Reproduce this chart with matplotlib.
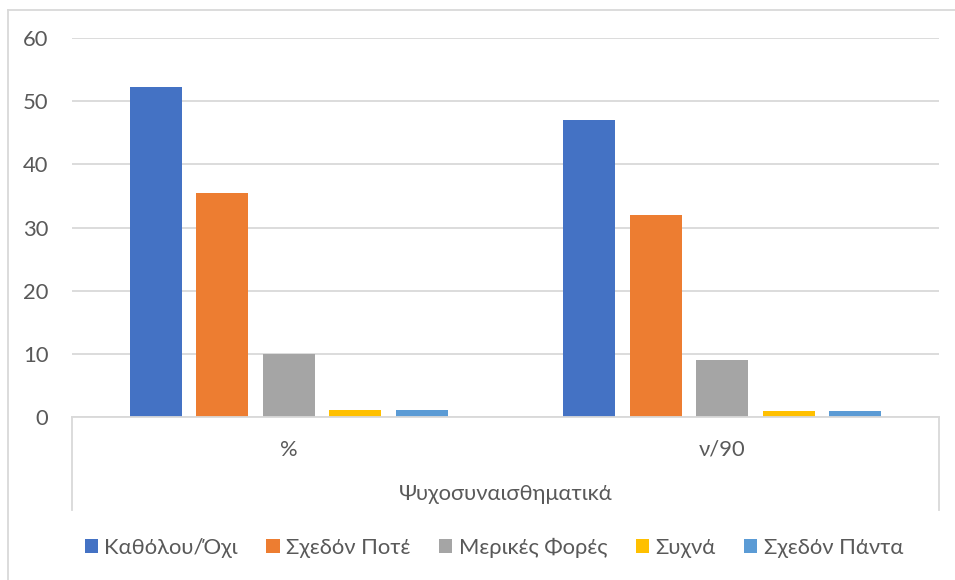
import matplotlib
matplotlib.use("Agg")
import matplotlib.pyplot as plt
from matplotlib.lines import Line2D
from matplotlib.patches import Patch
import matplotlib.transforms as mtransforms

# Data
groups = ["%", "ν/90"]
outer_label = "Ψυχοσυναισθηματικά"
series = ["Καθόλου/Όχι", "Σχεδόν Ποτέ", "Μερικές Φορές", "Συχνά", "Σχεδόν Πάντα"]
pct_values = [52.2, 35.5, 10.0, 1.1, 1.1]
count_values = [47, 32, 9, 1, 1]
colors = ["#4472C4", "#ED7D31", "#A5A5A5", "#FFC000", "#5B9BD5"]
yticks = [0, 10, 20, 30, 40, 50, 60]

plt.rcParams["font.family"] = ["Lato", "DejaVu Sans"]
text_color = "#595959"
grid_color = "#D9D9D9"
fs = 15.8

W, H = 955, 580
fig = plt.figure(figsize=(W / 100, H / 100), dpi=100)

def fx(px):
    return px / W

def fy(py):
    return 1 - py / H

ax_left, ax_right, ax_top, ax_bottom = 72, 939, 38, 417
ax = fig.add_axes([fx(ax_left), fy(ax_bottom), fx(ax_right - ax_left), fy(ax_top) - fy(ax_bottom)])

values_by_group = [pct_values, count_values]
n = len(series)
step = 0.1536
width = 0.12
for i, name in enumerate(series):
    xs = [g + (i - (n - 1) / 2) * step for g in range(len(groups))]
    hs = [values_by_group[g][i] for g in range(len(groups))]
    ax.bar(xs, hs, width=width, color=colors[i], label=name, zorder=3)

ax.set_xlim(-0.5, len(groups) - 0.5)
ax.set_ylim(0, 60)
ax.set_yticks(yticks)
ax.set_yticklabels([str(t) for t in yticks])
ax.tick_params(axis="y", length=0, pad=17, labelsize=fs, labelcolor=text_color)
ax.set_xticks([])
ax.grid(axis="y", color=grid_color, linewidth=1.3, zorder=0)
for s in ["left", "right", "top"]:
    ax.spines[s].set_visible(False)
ax.spines["bottom"].set_color(grid_color)
ax.spines["bottom"].set_linewidth(1.3)
ax.spines["bottom"].set_zorder(4)

# Category axis: group labels and outer label
trans = mtransforms.blended_transform_factory(ax.transData, fig.transFigure)
for g, name in enumerate(groups):
    ax.text(g, fy(450), name, transform=trans, ha="center", va="center",
            fontsize=fs, color=text_color)
fig.text(fx((ax_left + ax_right) / 2), fy(494), outer_label, ha="center", va="center",
         fontsize=fs, color=text_color)

# Category axis boundary lines
for x in (ax_left, ax_right):
    fig.add_artist(Line2D([fx(x), fx(x)], [fy(ax_bottom), fy(510)],
                          color=grid_color, linewidth=1.3, transform=fig.transFigure))

# Chart border (left and top edges)
fig.add_artist(Line2D([fx(8), fx(8)], [fy(10), fy(580)], color=grid_color,
                      linewidth=1.3, transform=fig.transFigure))
fig.add_artist(Line2D([fx(8), fx(955)], [fy(10), fy(10)], color=grid_color,
                      linewidth=1.3, transform=fig.transFigure))

handles = [Patch(facecolor=c, edgecolor="none") for c in colors]
fig.legend(handles, series, loc="center", bbox_to_anchor=(fx(494), fy(548)),
           ncol=n, frameon=False, fontsize=fs, labelcolor=text_color,
           handlelength=0.6, handleheight=0.62, handletextpad=0.3, columnspacing=1.3)

fig.savefig("out.png", dpi=100)
